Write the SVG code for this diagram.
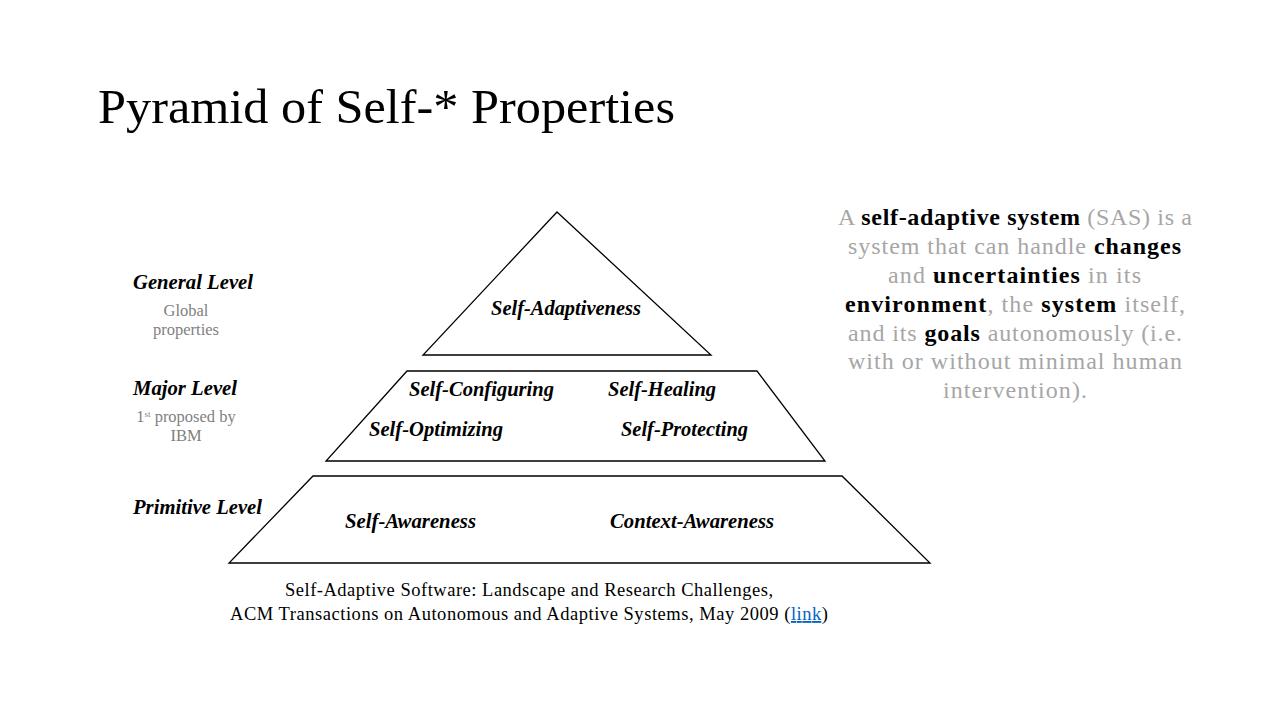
<svg xmlns="http://www.w3.org/2000/svg" width="1280" height="720" viewBox="0 0 1280 720">
<style>
.lvl{font-family:"Liberation Serif",serif;font-weight:bold;font-style:italic;font-size:20.5px;fill:#000}
.gray{font-family:"Liberation Serif",serif;font-size:16.5px;fill:#7f7f7f}
.shape{fill:#fff;stroke:#000;stroke-width:1.3}
.side{font-family:"Liberation Serif",serif;font-size:24px;fill:#a6a6a6}
.b{font-weight:bold;fill:#000}
.cite{font-family:"Liberation Serif",serif;font-size:18.5px;fill:#000}
</style>
<rect width="1280" height="720" fill="#fff"/>
<text x="98" y="123" font-family="Liberation Serif, serif" font-size="49" fill="#000" textLength="577" lengthAdjust="spacingAndGlyphs">Pyramid of Self-* Properties</text>

<g id="labels">
<text class="lvl" x="133" y="289" textLength="120" lengthAdjust="spacingAndGlyphs">General Level</text>
<text class="gray" x="186" y="316" text-anchor="middle">Global</text>
<text class="gray" x="186" y="335" text-anchor="middle">properties</text>
<text class="lvl" x="133" y="395" textLength="104" lengthAdjust="spacingAndGlyphs">Major Level</text>
<text class="gray" x="186" y="422" text-anchor="middle">1<tspan font-size="9" dy="-5">st</tspan><tspan dy="5"> proposed by</tspan></text>
<text class="gray" x="186" y="441" text-anchor="middle">IBM</text>
<text class="lvl" x="133" y="514" textLength="129" lengthAdjust="spacingAndGlyphs">Primitive Level</text>
</g>

<g id="general">
<polygon class="shape" points="557,212 711,355 423,355"/>
<text class="lvl" x="491" y="315" textLength="150" lengthAdjust="spacingAndGlyphs">Self-Adaptiveness</text>
</g>
<g id="major">
<polygon class="shape" points="407,371 757,371 825,461 326,461"/>
<text class="lvl" x="409" y="396" textLength="145" lengthAdjust="spacingAndGlyphs">Self-Configuring</text>
<text class="lvl" x="608" y="396" textLength="108" lengthAdjust="spacingAndGlyphs">Self-Healing</text>
<text class="lvl" x="369" y="436" textLength="134" lengthAdjust="spacingAndGlyphs">Self-Optimizing</text>
<text class="lvl" x="621" y="436" textLength="127" lengthAdjust="spacingAndGlyphs">Self-Protecting</text>
</g>
<g id="primitive">
<polygon class="shape" points="313,476 842,476 930,563 229,563"/>
<text class="lvl" x="345" y="528" textLength="131" lengthAdjust="spacingAndGlyphs">Self-Awareness</text>
<text class="lvl" x="610" y="528" textLength="164" lengthAdjust="spacingAndGlyphs">Context-Awareness</text>
</g>
<g id="connectors"></g>

<g id="definition">
<text class="side" x="838" y="225" textLength="354">A <tspan class="b">self-adaptive system</tspan> (SAS) is a</text>
<text class="side" x="848" y="254" textLength="333">system that can handle <tspan class="b">changes</tspan></text>
<text class="side" x="888" y="283" textLength="253">and <tspan class="b">uncertainties</tspan> in its</text>
<text class="side" x="845" y="312" textLength="340"><tspan class="b">environment</tspan>, the <tspan class="b">system</tspan> itself,</text>
<text class="side" x="848" y="341" textLength="334">and its <tspan class="b">goals</tspan> autonomously (i.e.</text>
<text class="side" x="848" y="369" textLength="334">with or without minimal human</text>
<text class="side" x="943" y="398" textLength="144">intervention).</text>
</g>

<g id="citation">
<text class="cite" x="285" y="596" textLength="488">Self-Adaptive Software: Landscape and Research Challenges,</text>
<text class="cite" x="230" y="620" textLength="598">ACM Transactions on Autonomous and Adaptive Systems, May 2009  (<tspan fill="#0563c1" text-decoration="underline">link</tspan>)</text>
</g>
</svg>
